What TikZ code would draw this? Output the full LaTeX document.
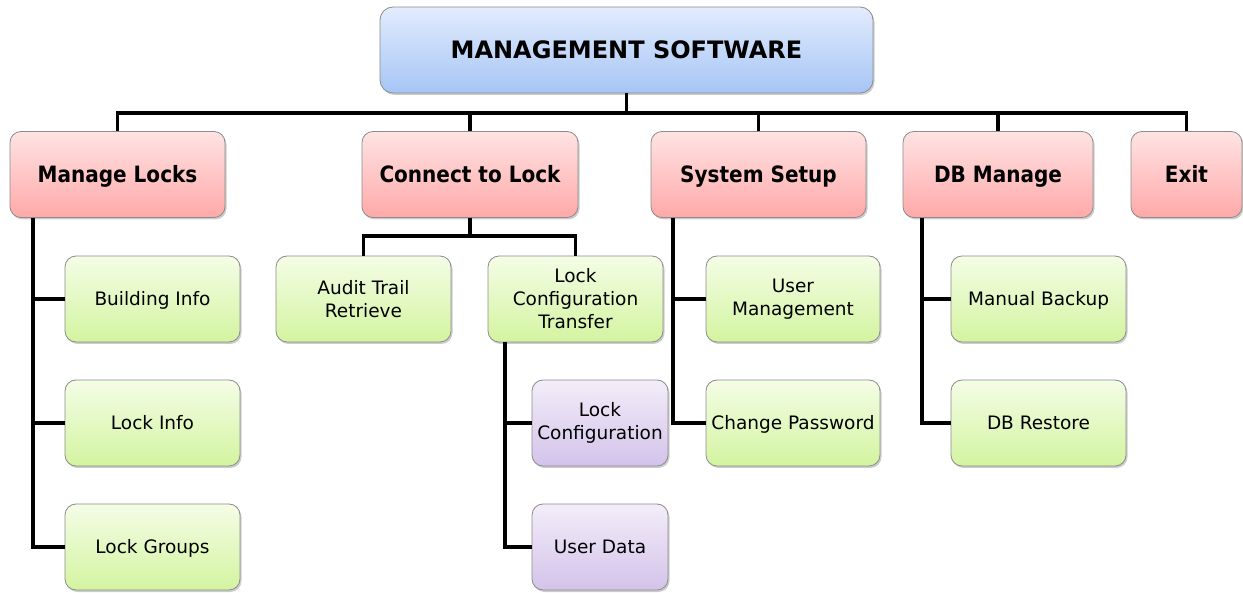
\documentclass[tikz,border=0pt]{standalone}
\usepackage{fontspec}
\setmainfont{DejaVu Sans}
\newfontfamily\menufont{DejaVu Sans}[FakeStretch=0.89]
\usetikzlibrary{shadows}
\definecolor{bluetop}{HTML}{E2ECFC}
\definecolor{bluebot}{HTML}{A6C5F6}
\definecolor{redtop}{HTML}{FFE3E3}
\definecolor{redbot}{HTML}{FFA9A9}
\definecolor{greentop}{HTML}{F4FDE6}
\definecolor{greenbot}{HTML}{D3F4A0}
\definecolor{purptop}{HTML}{F3EDF9}
\definecolor{purpbot}{HTML}{D3C3EA}
\definecolor{boxline}{HTML}{8C8C8C}
\begin{document}
\begin{tikzpicture}[x=1pt,y=-1pt,
  box/.style={draw=boxline, line width=0.8pt, rounded corners=11pt, align=center,
    inner sep=0pt, minimum height=86pt,
    drop shadow={shadow xshift=1.5pt, shadow yshift=-2pt, opacity=0.4}},
  rootbox/.style={box, rounded corners=13pt, minimum width=493pt,
    text height=17.5pt, text depth=0pt,
    top color=bluetop, bottom color=bluebot, font=\fontsize{24}{28}\selectfont\bfseries},
  menubox/.style={box, top color=redtop, bottom color=redbot,
    text height=16.4pt, text depth=0pt,
    font=\menufont\fontsize{22.5}{26}\selectfont\bfseries},
  itembox/.style={box, minimum width=175pt, top color=greentop, bottom color=greenbot,
    font=\fontsize{18.5}{23}\selectfont},
  subbox/.style={box, minimum width=136pt, top color=purptop, bottom color=purpbot,
    font=\fontsize{18.5}{23}\selectfont},
  oneline/.style={text height=13.5pt, text depth=0pt},
  wire/.style={line width=3.6pt, black}]
\useasboundingbox (0,0) rectangle (1243,593);

% root and main menu
\node[rootbox] (root) at (626.5,50) {MANAGEMENT SOFTWARE};
\node[menubox, minimum width=215pt] (ML) at (117.5,174.5) {Manage Locks};
\node[menubox, minimum width=216pt] (CL) at (470,174.5) {Connect to Lock};
\node[menubox, minimum width=215pt] (SS) at (758.5,174.5) {System Setup};
\node[menubox, minimum width=190pt] (DB) at (998,174.5) {DB Manage};
\node[menubox, minimum width=111pt] (EX) at (1186.5,174.5) {Exit};

% Manage Locks items
\node[itembox, oneline] (BI) at (152.5,299) {Building Info};
\node[itembox, oneline] (LI) at (152.5,423) {Lock Info};
\node[itembox, oneline] (LG) at (152.5,547) {Lock Groups};

% Connect to Lock items
\node[itembox] (AT) at (363.5,299) {Audit Trail\\Retrieve};
\node[itembox] (LCT) at (575.5,299) {Lock\\Configuration\\Transfer};
\node[subbox] (LC) at (600,423) {Lock\\Configuration};
\node[subbox, oneline] (UD) at (600,547) {User Data};

% System Setup items
\node[itembox, minimum width=174pt] (UM) at (793,299) {User\\Management};
\node[itembox, oneline, minimum width=174pt] (CP) at (793,423) {Change Password};

% DB Manage items
\node[itembox, oneline] (MB) at (1038.5,299) {Manual Backup};
\node[itembox, oneline] (DR) at (1038.5,423) {DB Restore};

% trunk positions
\coordinate (bus) at (0,113);
\coordinate (mlx) at (33,0);
\coordinate (lctx) at (505,0);
\coordinate (ssx) at (673,0);
\coordinate (dbx) at (922,0);

% top level bus
\draw[wire] (root.south) -- (root.south |- bus);
\draw[wire] (ML.north) -- (ML.north |- bus) -- (EX.north |- bus) -- (EX.north);
\foreach \n in {CL,SS,DB} \draw[wire] (\n.north) -- (\n.north |- bus);

% Manage Locks branch
\draw[wire] (ML.south -| mlx) |- (LG.west);
\foreach \n in {BI,LI} \draw[wire] (\n.west) -- (\n.west -| mlx);

% Connect to Lock branch
\draw[wire] (CL.south) -- ++(0,18) coordinate (clb);
\draw[wire] (AT.north) |- (clb) -| (LCT.north);
\draw[wire] (LCT.south -| lctx) |- (UD.west);
\draw[wire] (LC.west) -- (LC.west -| lctx);

% System Setup branch
\draw[wire] (SS.south -| ssx) |- (CP.west);
\draw[wire] (UM.west) -- (UM.west -| ssx);

% DB Manage branch
\draw[wire] (DB.south -| dbx) |- (DR.west);
\draw[wire] (MB.west) -- (MB.west -| dbx);
\end{tikzpicture}
\end{document}
